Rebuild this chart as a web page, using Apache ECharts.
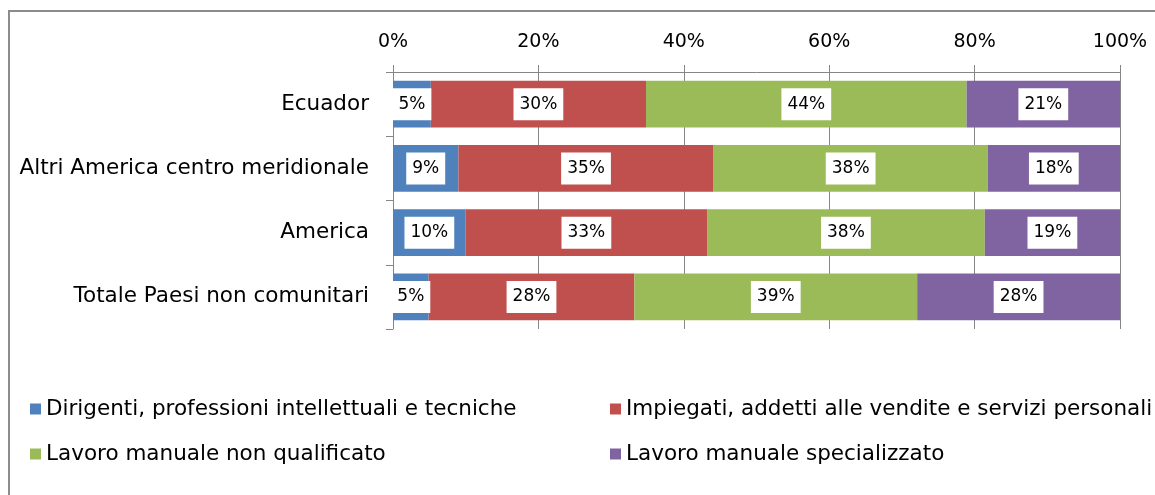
<!DOCTYPE html>
<html>
<head>
<meta charset="utf-8">
<script src="https://cdn.jsdelivr.net/npm/echarts@6/dist/echarts.min.js"></script>
<style>
  html, body { margin: 0; padding: 0; background: #fff; overflow: hidden; }
  #main { width: 1155px; height: 495px; }
</style>
</head>
<body>
<div id="main"></div>
<script>
// categorie (dall'alto in basso)
var categories = ['Ecuador', 'Altri America centro meridionale', 'America', 'Totale Paesi non comunitari'];

var seriesNames = [
  'Dirigenti, professioni intellettuali e tecniche',
  'Impiegati, addetti alle vendite e servizi personali',
  'Lavoro manuale non qualificato',
  'Lavoro manuale specializzato'
];

// percentuali per categoria
var dirigenti = [5.2, 9.0, 10.0, 4.9];
var impiegati = [29.6, 35.1, 33.2, 28.3];
var nonQualificato = [44.1, 37.7, 38.2, 38.9];
var specializzato = [21.1, 18.2, 18.6, 27.9];

var xTicks = [0, 20, 40, 60, 80, 100];

var colors = ['#4F81BD', '#C0504D', '#9BBB59', '#8064A2'];
var font = '"DejaVu Sans", "Noto Sans", sans-serif';

var chart = echarts.init(document.getElementById('main'));

function makeSeries(name, data, color) {
  return {
    name: name,
    type: 'bar',
    stack: 'tot',
    data: data,
    barCategoryGap: '27%',
    itemStyle: { color: color },
    label: {
      show: true,
      position: 'inside',
      formatter: function (p) { return Math.round(p.value) + '%'; },
      backgroundColor: '#fff',
      color: '#000',
      fontFamily: font,
      fontSize: 17,
      padding: [8, 6, 7, 6]
    }
  };
}

var legendPos = [[25, 393], [605, 393], [25, 438], [605, 438]];

var option = {
  animation: false,
  textStyle: { fontFamily: font },
  grid: { left: 393, right: 35, top: 72, bottom: 166 },
  // cornice del grafico
  graphic: [{
    type: 'polyline',
    shape: { points: [[9, 520], [9, 11], [1200, 11]] },
    style: { stroke: '#8c8c8c', lineWidth: 2, fill: null }
  }],
  legend: seriesNames.map(function (n, i) {
    return {
      data: [n],
      left: legendPos[i][0],
      top: legendPos[i][1],
      itemWidth: 11,
      itemHeight: 11,
      itemGap: 6,
      icon: 'rect',
      textStyle: { color: '#000', fontSize: 21.5, fontFamily: font }
    };
  }),
  xAxis: {
    type: 'value',
    position: 'top',
    min: xTicks[0],
    max: xTicks[xTicks.length - 1],
    interval: 20,
    axisLine: { show: true, lineStyle: { color: '#868686' } },
    axisTick: { show: true, length: 7, lineStyle: { color: '#868686' } },
    axisLabel: { formatter: '{value}%', color: '#000', fontSize: 19, margin: 20 },
    splitLine: { show: true, lineStyle: { color: '#868686' } }
  },
  yAxis: {
    type: 'category',
    inverse: true,
    data: categories,
    axisLine: { show: true, lineStyle: { color: '#868686' } },
    axisTick: { show: true, length: 7, lineStyle: { color: '#868686' } },
    axisLabel: { color: '#000', fontSize: 21.5, margin: 24 }
  },
  series: [
    makeSeries(seriesNames[0], dirigenti, colors[0]),
    makeSeries(seriesNames[1], impiegati, colors[1]),
    makeSeries(seriesNames[2], nonQualificato, colors[2]),
    makeSeries(seriesNames[3], specializzato, colors[3])
  ]
};

chart.setOption(option);
</script>
</body>
</html>
